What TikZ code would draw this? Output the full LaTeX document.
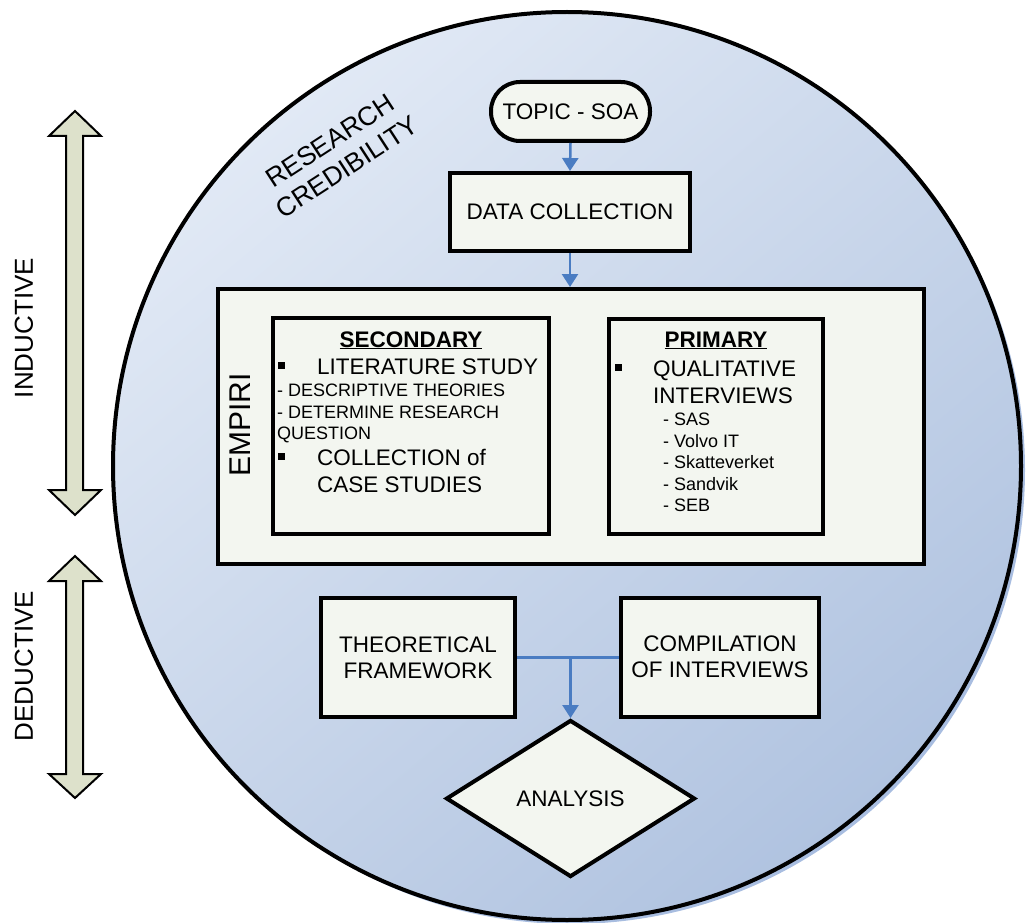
\documentclass[tikz,border=0pt]{standalone}
\usepackage{fontspec}
\setmainfont{Liberation Sans}
\usetikzlibrary{shapes.geometric,arrows.meta,calc}

\definecolor{boxfill}{HTML}{F3F6F0}
\definecolor{flowblue}{HTML}{4A7CC2}
\definecolor{arrowfill}{HTML}{DDE1CB}
\definecolor{discTop}{HTML}{E1E9F5}
\definecolor{discBottom}{HTML}{B0C3E0}
\definecolor{discShadow}{HTML}{A8BDE0}

% small square bullet followed by a fixed indent
\newcommand{\sqbullet}[1]{\makebox[#1][l]{\raisebox{5pt}{\rule{7pt}{7pt}}}}

\begin{document}
\begin{tikzpicture}[x=1pt,y=-1pt,
  box/.style={draw=black, line width=4pt, fill=boxfill, inner sep=0pt,
              align=center, font=\fontsize{22.5}{26}\selectfont},
  flow/.style={draw=flowblue, line width=2.5pt,
               -{Triangle[length=13pt,width=16pt]}},
  link/.style={draw=flowblue, line width=2.5pt},
  bigtxt/.style={inner sep=0pt, anchor=base west, font=\fontsize{22.5}{26}\selectfont},
  smalltxt/.style={inner sep=0pt, anchor=base west, font=\fontsize{18}{21}\selectfont},
  dirarrow/.style={draw=black, line width=2pt, fill=arrowfill, line join=miter},
  sidelabel/.style={inner sep=0pt, rotate=90, font=\fontsize{26}{30}\selectfont},
  credlabel/.style={inner sep=0pt, rotate=33, font=\fontsize{26.5}{30}\selectfont}]

\useasboundingbox (0,0) rectangle (1028,923);

% the research-credibility disc with its soft shadow
\fill[discShadow] (571,470) circle (454);
\path[draw=black, line width=4pt, top color=discTop, bottom color=discBottom,
      shading angle=40] (567,466) circle (454);

\node[credlabel] (cred1) at (330,141) {RESEARCH};
\node[credlabel] (cred2) at (347,167) {CREDIBILITY};

% flow boxes
\node[box, rounded corners=29pt, minimum width=159pt, minimum height=59pt]
  (topic) at (570.5,111.5) {TOPIC - SOA};
\node[box, minimum width=240pt, minimum height=78pt]
  (data) at (570,212) {DATA COLLECTION};
\node[box, minimum width=706pt, minimum height=275pt]
  (emp) at (571,426.5) {};
\node[inner sep=0pt, rotate=90, font=\fontsize{30}{34}\selectfont]
  (emplabel) at (240,425) {EMPIRI};
\node[box, minimum width=276pt, minimum height=216pt]
  (sec) at (411,426) {};
\node[box, minimum width=214pt, minimum height=215pt]
  (pri) at (716,426.5) {};
\node[box, minimum width=194pt, minimum height=119pt]
  (theo) at (418,657.5) {THEORETICAL\\FRAMEWORK};
\node[box, minimum width=198pt, minimum height=119pt]
  (comp) at (720,657) {COMPILATION\\OF INTERVIEWS};
\node[box, shape=diamond, minimum width=249pt, minimum height=157pt, line join=miter]
  (ana) at (570.5,798.5) {ANALYSIS};

% secondary sources
\node[inner sep=0pt, anchor=base, font=\fontsize{22.5}{26}\selectfont\bfseries]
  (sechead) at (411,347) {\underline{SECONDARY}};
\node[bigtxt] (s1) at (278,374) {\sqbullet{39pt}LITERATURE STUDY};
\node[smalltxt] (s2) at (277,396) {- DESCRIPTIVE THEORIES};
\node[smalltxt] (s3) at (277,418) {- DETERMINE RESEARCH};
\node[smalltxt] (s4) at (277,439) {QUESTION};
\node[bigtxt] (s5) at (278,465) {\sqbullet{39pt}COLLECTION of};
\node[bigtxt] (s6) at (317,492) {CASE STUDIES};

% primary sources
\node[inner sep=0pt, anchor=base, font=\fontsize{22.5}{26}\selectfont\bfseries]
  (prihead) at (716,347) {\underline{PRIMARY}};
\node[bigtxt] (p1) at (615,376) {\sqbullet{38pt}QUALITATIVE};
\node[bigtxt] (p2) at (653,403) {INTERVIEWS};
\node[smalltxt] (p3) at (663,425) {- SAS};
\node[smalltxt] (p4) at (663,447) {- Volvo IT};
\node[smalltxt] (p5) at (663,468) {- Skatteverket};
\node[smalltxt] (p6) at (663,490) {- Sandvik};
\node[smalltxt] (p7) at (663,511) {- SEB};

% connectors
\draw[flow] (topic.south) -- (data.north);
\draw[flow] (data.south) -- (data.south |- emp.north);
\coordinate (join) at (ana.north |- theo.east);
\draw[link] (theo.east) -- (theo.east -| comp.west);
\draw[flow] (join) -- (ana.north);

% inductive / deductive double arrows
\draw[dirarrow] (75,111) -- (101,136) -- (83,136) -- (83,490) -- (101,490)
  -- (75,515) -- (49,490) -- (66,490) -- (66,136) -- (49,136) -- cycle;
\draw[dirarrow] (75,556) -- (101,581) -- (83,581) -- (83,774) -- (101,774)
  -- (75,798) -- (49,774) -- (66,774) -- (66,581) -- (49,581) -- cycle;
\node[sidelabel] (ind) at (24,328) {INDUCTIVE};
\node[sidelabel] (ded) at (24,666) {DEDUCTIVE};

\end{tikzpicture}
\end{document}
